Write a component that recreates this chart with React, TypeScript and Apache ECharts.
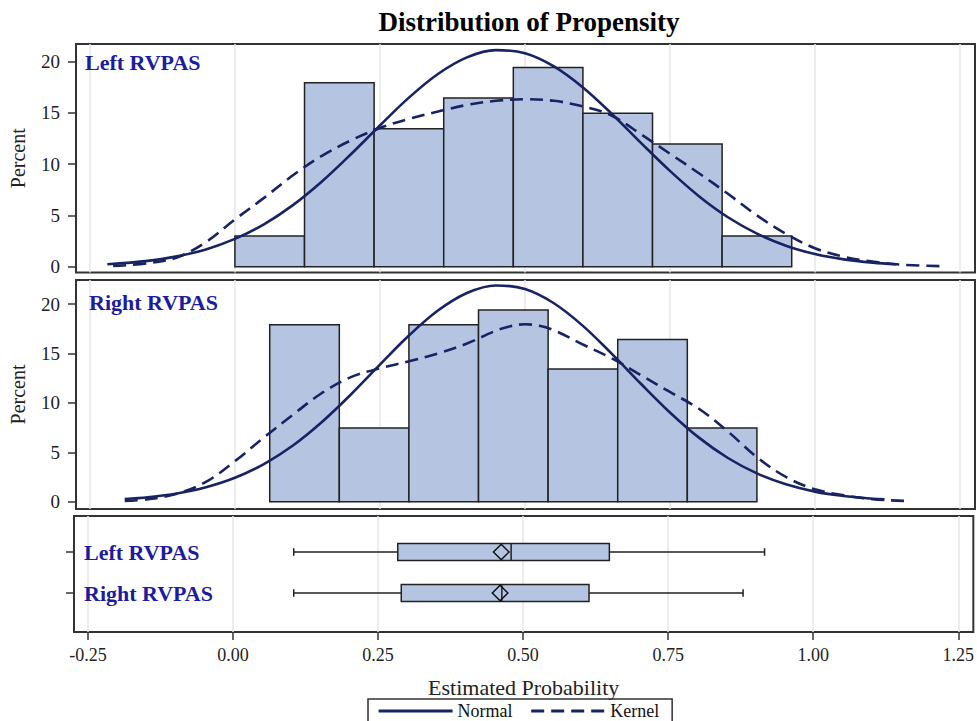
import React, { useEffect, useRef } from "react";
import * as echarts from "echarts";

const FONT = '"Liberation Serif", "Times New Roman", serif';

const titleText = "Distribution of Propensity";
const xTicks = [-0.25, 0, 0.25, 0.5, 0.75, 1, 1.25];
const yTicks = [0, 5, 10, 15, 20];

// Histogram bins (edges) and percentages
const leftEdges = [0, 0.12, 0.24, 0.36, 0.48, 0.6, 0.72, 0.84, 0.96];
const leftPercent = [2.99, 17.91, 13.43, 16.42, 19.4, 14.93, 11.94, 2.99];
const rightEdges = [0.06, 0.18, 0.3, 0.42, 0.54, 0.66, 0.78, 0.9];
const rightPercent = [17.91, 7.46, 17.91, 19.4, 13.43, 16.42, 7.46];

// Density curves: [x, percent]
const leftNormal = [
  [-0.22, 0.24], [-0.15, 0.57], [-0.1, 1.01], [-0.05, 1.69], [0, 2.71], [0.05, 4.13],
  [0.1, 6.0], [0.15, 8.3], [0.2, 10.95], [0.25, 13.75], [0.3, 16.46], [0.35, 18.76],
  [0.4, 20.38], [0.45, 21.08], [0.5, 20.78], [0.55, 19.5], [0.6, 17.45], [0.65, 14.87],
  [0.7, 12.06], [0.75, 9.33], [0.8, 6.87], [0.85, 4.82], [0.9, 3.23], [0.95, 2.05],
  [1.0, 1.24], [1.05, 0.72], [1.1, 0.4], [1.14, 0.24],
];
const leftKernel = [
  [-0.21, 0.07], [-0.15, 0.35], [-0.1, 0.9], [-0.05, 2.4], [0, 4.6], [0.05, 6.7],
  [0.1, 8.9], [0.15, 10.8], [0.2, 12.3], [0.25, 13.5], [0.3, 14.4], [0.35, 15.1],
  [0.4, 15.75], [0.45, 16.15], [0.5, 16.3], [0.55, 16.15], [0.6, 15.6], [0.65, 14.7],
  [0.7, 12.9], [0.75, 11.0], [0.8, 9.1], [0.85, 7.1], [0.9, 5.0], [0.95, 3.2],
  [1.0, 1.8], [1.05, 0.97], [1.1, 0.5], [1.15, 0.2], [1.225, 0.05],
];
const rightNormal = [
  [-0.19, 0.27], [-0.15, 0.45], [-0.1, 0.83], [-0.05, 1.46], [0, 2.42], [0.05, 3.81],
  [0.1, 5.69], [0.15, 8.07], [0.2, 10.85], [0.25, 13.87], [0.3, 16.81], [0.35, 19.34],
  [0.4, 21.12], [0.45, 21.88], [0.5, 21.52], [0.55, 20.08], [0.6, 17.79], [0.65, 14.95],
  [0.7, 11.93], [0.75, 9.03], [0.8, 6.48], [0.85, 4.42], [0.9, 2.86], [0.95, 1.76],
  [1.0, 1.02], [1.05, 0.57], [1.1, 0.3], [1.12, 0.23],
];
const rightKernel = [
  [-0.19, 0.08], [-0.15, 0.25], [-0.1, 0.8], [-0.05, 2.0], [0, 4.1], [0.05, 6.5],
  [0.1, 8.8], [0.15, 11.0], [0.2, 12.6], [0.25, 13.5], [0.3, 14.2], [0.35, 15.0],
  [0.4, 16.0], [0.45, 17.3], [0.475, 17.75], [0.5, 17.95], [0.525, 17.8], [0.55, 17.35],
  [0.6, 15.9], [0.65, 14.5], [0.7, 12.8], [0.75, 11.1], [0.8, 9.4], [0.85, 7.1],
  [0.9, 4.5], [0.95, 2.5], [1.0, 1.25], [1.05, 0.65], [1.1, 0.25], [1.155, 0.08],
];

// Box plot statistics
const boxCategories = ["Left RVPAS", "Right RVPAS"];
const boxMin = [0.104, 0.104];
const boxQ1 = [0.283, 0.289];
const boxMedian = [0.478, 0.462];
const boxQ3 = [0.647, 0.612];
const boxMax = [0.914, 0.877];
const boxMean = [0.461, 0.459];

const panelLabels = ["Left RVPAS", "Right RVPAS"];
const legendNames = ["Normal", "Kernel"];

const BAR_FILL = "#b4c4e1";
const EDGE = "#222";
const LINE = "#172363";
const LABEL_BLUE = "#1c1c9e";
const FRAME = "#333";

function histData(edges: number[], pct: number[]) {
  return pct.map((p, i) => [edges[i], edges[i + 1], p]);
}

const histRender = (params: any, api: any) => {
  const lo = api.value(0);
  const hi = api.value(1);
  const h = api.value(2);
  const p0 = api.coord([lo, h]);
  const p1 = api.coord([hi, 0]);
  return {
    type: "rect",
    shape: { x: p0[0], y: p0[1], width: p1[0] - p0[0], height: p1[1] - p0[1] },
    style: { fill: BAR_FILL, stroke: EDGE, lineWidth: 1.5 },
  };
};

const boxRender = (params: any, api: any) => {
  const cat = api.value(0);
  const cy = api.coord([api.value(3), cat])[1];
  const xs = [1, 2, 3, 4, 5, 6].map((d) => api.coord([api.value(d), cat])[0]);
  const [xMin, xQ1, xMed, xQ3, xMax, xMean] = xs;
  const hh = 8.6;
  const cap = 3.8;
  const ls = { stroke: EDGE, lineWidth: 1.5 };
  return {
    type: "group",
    children: [
      { type: "line", shape: { x1: xMin, y1: cy, x2: xQ1, y2: cy }, style: ls },
      { type: "line", shape: { x1: xQ3, y1: cy, x2: xMax, y2: cy }, style: ls },
      { type: "line", shape: { x1: xMin, y1: cy - cap, x2: xMin, y2: cy + cap }, style: ls },
      { type: "line", shape: { x1: xMax, y1: cy - cap, x2: xMax, y2: cy + cap }, style: ls },
      {
        type: "rect",
        shape: { x: xQ1, y: cy - hh, width: xQ3 - xQ1, height: 2 * hh },
        style: { fill: BAR_FILL, stroke: EDGE, lineWidth: 1.5 },
      },
      { type: "line", shape: { x1: xMed, y1: cy - hh, x2: xMed, y2: cy + hh }, style: ls },
      {
        type: "polygon",
        shape: {
          points: [
            [xMean - 7.8, cy],
            [xMean, cy - 7.8],
            [xMean + 7.8, cy],
            [xMean, cy + 7.8],
          ],
        },
        style: { fill: "none", stroke: "#111", lineWidth: 1.5 },
      },
    ],
  };
};

const X_MIN = -0.274;
const X_MAX = 1.276;

function makeXAxis(gridIndex: number, bottom: boolean, hidden = false) {
  if (hidden) {
    return { type: "value", gridIndex, min: X_MIN, max: X_MAX, show: false };
  }
  return {
    type: "value",
    gridIndex,
    min: X_MIN,
    max: X_MAX,
    axisLine: { show: false, onZero: false },
    axisTick: {
      show: bottom,
      customValues: xTicks,
      length: 8,
      inside: false,
      lineStyle: { color: "#333", width: 1.5 },
    },
    axisLabel: {
      show: bottom,
      customValues: xTicks,
      formatter: (v: number) => v.toFixed(2),
      fontFamily: FONT,
      fontSize: 18,
      color: "#222",
      margin: 14,
    },
    splitLine: { show: true, lineStyle: { color: "#e6e6e6", width: 1.5 } },
    name: bottom ? "Estimated Probability" : "",
    nameLocation: "middle",
    nameGap: 44,
    nameTextStyle: { fontFamily: FONT, fontSize: 22, color: "#222" },
  };
}

function makeYAxis(gridIndex: number, min: number, max: number) {
  return {
    type: "value",
    gridIndex,
    min,
    max,
    axisLine: { show: false, onZero: false },
    axisTick: {
      show: true,
      customValues: yTicks,
      length: 8,
      inside: false,
      lineStyle: { color: "#333", width: 1.5 },
    },
    axisLabel: {
      customValues: yTicks,
      fontFamily: FONT,
      fontSize: 19,
      color: "#222",
      margin: 16,
    },
    splitLine: { show: false },
    name: "Percent",
    nameLocation: "middle",
    nameGap: 48,
    nameTextStyle: { fontFamily: FONT, fontSize: 20, color: "#222" },
  };
}

export default function App() {
  const ref = useRef<HTMLDivElement>(null);
  useEffect(() => {
    document.body.style.margin = "0";
    if (!ref.current) return;
    const chart = echarts.init(ref.current, undefined, { renderer: "svg" });
    const gridBase = {
      left: 74,
      right: 2,
      show: true,
      borderColor: FRAME,
      borderWidth: 2,
      backgroundColor: "#fff",
    };
    const lineSeries = (name: string, data: number[][], idx: number, dashed: boolean) => ({
      type: "line",
      name,
      xAxisIndex: idx,
      yAxisIndex: idx,
      data,
      smooth: 0.35,
      symbol: "none",
      showSymbol: false,
      z: 5,
      lineStyle: { color: LINE, width: 2.6, type: dashed ? [13, 7] : "solid" },
      itemStyle: { color: LINE },
    });
    const option: any = {
      animation: false,
      backgroundColor: "#fff",
      title: {
        text: titleText,
        left: 524,
        top: 3,
        textAlign: "center",
        textStyle: { fontFamily: FONT, fontSize: 27, fontWeight: "bold", color: "#000" },
      },
      legend: {
        data: legendNames,
        left: 368,
        top: 699,
        orient: "horizontal",
        itemWidth: 74,
        itemHeight: 12,
        itemGap: 17,
        padding: [3, 13, 12, 9],
        borderColor: "#333",
        borderWidth: 1.5,
        selectedMode: false,
        itemStyle: { opacity: 0, color: "rgba(0,0,0,0)", borderWidth: 0 },
        lineStyle: { width: 3.2 },
        textStyle: { fontFamily: FONT, fontSize: 18, color: "#111" },
      },
      grid: [
        { ...gridBase, top: 44, height: 228.5 },
        { ...gridBase, top: 280, height: 229 },
        { ...gridBase, top: 516, height: 116 },
        { left: 74, right: 2, top: 531.5, height: 82, show: false },
      ],
      xAxis: [
        makeXAxis(0, false),
        makeXAxis(1, false),
        makeXAxis(2, true),
        makeXAxis(3, false, true),
      ],
      yAxis: [
        makeYAxis(0, -0.56, 21.68),
        makeYAxis(1, -0.74, 22.43),
        { type: "value", gridIndex: 2, min: 0, max: 1, show: false },
        {
          type: "category",
          gridIndex: 3,
          data: boxCategories,
          inverse: true,
          axisLine: { show: false, onZero: false },
          axisTick: {
            show: true,
            alignWithLabel: true,
            length: 8,
            inside: false,
            lineStyle: { color: "#333", width: 1.5 },
          },
          axisLabel: {
            inside: true,
            margin: 10,
            fontFamily: FONT,
            fontSize: 22,
            fontWeight: "bold",
            color: LABEL_BLUE,
          },
          splitLine: { show: false },
        },
      ],
      graphic: [
        {
          type: "text",
          x: 85,
          y: 62,
          style: {
            text: panelLabels[0],
            font: `bold 22px ${FONT}`,
            fill: LABEL_BLUE,
            verticalAlign: "middle",
          },
          z: 10,
        },
        {
          type: "text",
          x: 89,
          y: 302,
          style: {
            text: panelLabels[1],
            font: `bold 22px ${FONT}`,
            fill: LABEL_BLUE,
            verticalAlign: "middle",
          },
          z: 10,
        },
      ],
      series: [
        {
          type: "custom",
          xAxisIndex: 0,
          yAxisIndex: 0,
          data: histData(leftEdges, leftPercent),
          encode: { x: [0, 1], y: 2 },
          renderItem: histRender,
          z: 2,
        },
        {
          type: "custom",
          xAxisIndex: 1,
          yAxisIndex: 1,
          data: histData(rightEdges, rightPercent),
          encode: { x: [0, 1], y: 2 },
          renderItem: histRender,
          z: 2,
        },
        lineSeries(legendNames[0], leftNormal, 0, false),
        lineSeries(legendNames[1], leftKernel, 0, true),
        lineSeries(legendNames[0], rightNormal, 1, false),
        lineSeries(legendNames[1], rightKernel, 1, true),
        {
          type: "custom",
          xAxisIndex: 3,
          yAxisIndex: 3,
          data: boxCategories.map((_, i) => [
            i,
            boxMin[i],
            boxQ1[i],
            boxMedian[i],
            boxQ3[i],
            boxMax[i],
            boxMean[i],
          ]),
          encode: { y: 0, x: [1, 2, 3, 4, 5, 6] },
          renderItem: boxRender,
          z: 3,
        },
      ],
    };
    chart.setOption(option);
    return () => chart.dispose();
  }, []);
  return (
    <div
      ref={ref}
      style={{ position: "absolute", left: 0, top: 0, width: 977, height: 721 }}
    />
  );
}
